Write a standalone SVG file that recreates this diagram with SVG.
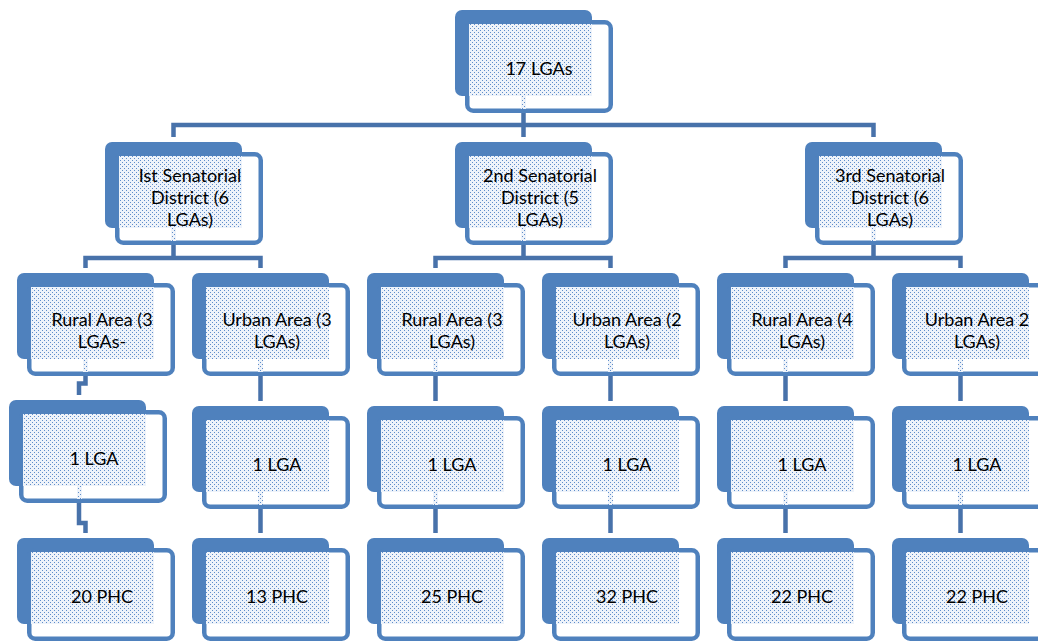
<svg xmlns="http://www.w3.org/2000/svg" width="1038" height="642" viewBox="0 0 1038 642">
<defs>
<pattern id="dots" width="4" height="4" patternUnits="userSpaceOnUse">
<rect width="4" height="4" fill="#EEF3FA"/>
<rect x="0" y="0" width="1" height="1" fill="#5F8DCA"/>
<rect x="2" y="2" width="1" height="1" fill="#5F8DCA"/>
</pattern>
<pattern id="dotsX" href="#dots" x="1"/>
<pattern id="dotsY" href="#dots" y="1"/>
<pattern id="dotsXY" href="#dots" x="1" y="1"/>
</defs>
<style>
.back{fill:#4F81BD}
.front{fill:#fff;stroke:#4F81BD;stroke-width:4.5}
.dot{fill:url(#dots)}
.ox .dot{fill:url(#dotsX)}
.oy .dot{fill:url(#dotsY)}
.oxy .dot{fill:url(#dotsXY)}
.lbl{font-family:Lato,"Liberation Sans",sans-serif;font-size:18px;fill:#000;text-anchor:middle}
.conn{fill:none;stroke:#4872AA;stroke-width:4.5;stroke-linejoin:miter;stroke-linecap:butt}
</style>
<rect width="1038" height="642" fill="#fff"/>
<g id="connectors" class="conn">
<path d="M173.5 137 V125 H873.5 V137 M523.5 96 V137"/>
<path d="M85.5 268 V258 H260.5 V268 M173.5 228 V258"/>
<path d="M435.5 268 V258 H610.5 V268 M523.5 228 V258"/>
<path d="M785.5 268 V258 H960.5 V268 M873.5 228 V258"/>
<path d="M85.5 359 V383.5 H79 V395"/>
<path d="M260.5 359 V401 M435.5 359 V401 M610.5 359 V401 M785.5 359 V401 M960.5 359 V401"/>
<path d="M79 486 V523 H85.5 V533"/>
<path d="M260.5 492 V533 M435.5 492 V533 M610.5 492 V533 M785.5 492 V533 M960.5 492 V533"/>
</g>
<g id="n-top" class="ox" transform="translate(455,10)"><rect class="back" width="137" height="86" rx="7"/><rect class="front" x="12.25" y="12.25" width="143.5" height="88.5" rx="6"/><rect class="dot" x="14" y="14" width="123" height="72"/><rect class="dot" x="66" y="86" width="5" height="13"/><text class="lbl" x="84" y="65">17 LGAs</text></g>
<g id="n-s1" class="ox" transform="translate(105,142)"><rect class="back" width="137" height="86" rx="7"/><rect class="front" x="12.25" y="12.25" width="143.5" height="88.5" rx="6"/><rect class="dot" x="14" y="14" width="123" height="72"/><rect class="dot" x="66" y="86" width="5" height="13"/><text class="lbl" x="85" y="40">Ist Senatorial</text><text class="lbl" x="85" y="62">District (6</text><text class="lbl" x="85" y="84">LGAs)</text></g>
<g id="n-s2" class="ox" transform="translate(455,142)"><rect class="back" width="137" height="86" rx="7"/><rect class="front" x="12.25" y="12.25" width="143.5" height="88.5" rx="6"/><rect class="dot" x="14" y="14" width="123" height="72"/><rect class="dot" x="66" y="86" width="5" height="13"/><text class="lbl" x="85" y="40">2nd Senatorial</text><text class="lbl" x="85" y="62">District (5</text><text class="lbl" x="85" y="84">LGAs)</text></g>
<g id="n-s3" class="ox" transform="translate(805,142)"><rect class="back" width="137" height="86" rx="7"/><rect class="front" x="12.25" y="12.25" width="143.5" height="88.5" rx="6"/><rect class="dot" x="14" y="14" width="123" height="72"/><rect class="dot" x="66" y="86" width="5" height="13"/><text class="lbl" x="85" y="40">3rd Senatorial</text><text class="lbl" x="85" y="62">District (6</text><text class="lbl" x="85" y="84">LGAs)</text></g>
<g id="n-a1" class="oxy" transform="translate(17,273)"><rect class="back" width="137" height="86" rx="7"/><rect class="front" x="12.25" y="12.25" width="143.5" height="88.5" rx="6"/><rect class="dot" x="14" y="14" width="123" height="72"/><rect class="dot" x="66" y="86" width="5" height="13"/><text class="lbl" x="85" y="53">Rural Area (3</text><text class="lbl" x="85" y="75">LGAs-</text></g>
<g id="n-a2" class="oy" transform="translate(192,273)"><rect class="back" width="137" height="86" rx="7"/><rect class="front" x="12.25" y="12.25" width="143.5" height="88.5" rx="6"/><rect class="dot" x="14" y="14" width="123" height="72"/><rect class="dot" x="66" y="86" width="5" height="13"/><text class="lbl" x="85" y="53">Urban Area (3</text><text class="lbl" x="85" y="75">LGAs)</text></g>
<g id="n-a3" class="oxy" transform="translate(367,273)"><rect class="back" width="137" height="86" rx="7"/><rect class="front" x="12.25" y="12.25" width="143.5" height="88.5" rx="6"/><rect class="dot" x="14" y="14" width="123" height="72"/><rect class="dot" x="66" y="86" width="5" height="13"/><text class="lbl" x="85" y="53">Rural Area (3</text><text class="lbl" x="85" y="75">LGAs)</text></g>
<g id="n-a4" class="oy" transform="translate(542,273)"><rect class="back" width="137" height="86" rx="7"/><rect class="front" x="12.25" y="12.25" width="143.5" height="88.5" rx="6"/><rect class="dot" x="14" y="14" width="123" height="72"/><rect class="dot" x="66" y="86" width="5" height="13"/><text class="lbl" x="85" y="53">Urban Area (2</text><text class="lbl" x="85" y="75">LGAs)</text></g>
<g id="n-a5" class="oxy" transform="translate(717,273)"><rect class="back" width="137" height="86" rx="7"/><rect class="front" x="12.25" y="12.25" width="143.5" height="88.5" rx="6"/><rect class="dot" x="14" y="14" width="123" height="72"/><rect class="dot" x="66" y="86" width="5" height="13"/><text class="lbl" x="85" y="53">Rural Area (4</text><text class="lbl" x="85" y="75">LGAs)</text></g>
<g id="n-a6" class="oy" transform="translate(892,273)"><rect class="back" width="137" height="86" rx="7"/><rect class="front" x="12.25" y="12.25" width="143.5" height="88.5" rx="6"/><rect class="dot" x="14" y="14" width="123" height="72"/><rect class="dot" x="66" y="86" width="5" height="13"/><text class="lbl" x="85" y="53">Urban Area 2</text><text class="lbl" x="85" y="75">LGAs)</text></g>
<g id="n-l1" class="ox" transform="translate(9,400)"><rect class="back" width="137" height="86" rx="7"/><rect class="front" x="12.25" y="12.25" width="143.5" height="88.5" rx="6"/><rect class="dot" x="14" y="14" width="123" height="72"/><rect class="dot" x="68" y="86" width="5" height="13"/><text class="lbl" x="85" y="65">1 LGA</text></g>
<g id="n-l2" transform="translate(192,406)"><rect class="back" width="137" height="86" rx="7"/><rect class="front" x="12.25" y="12.25" width="143.5" height="88.5" rx="6"/><rect class="dot" x="14" y="14" width="123" height="72"/><rect class="dot" x="66" y="86" width="5" height="13"/><text class="lbl" x="85" y="65">1 LGA</text></g>
<g id="n-l3" class="ox" transform="translate(367,406)"><rect class="back" width="137" height="86" rx="7"/><rect class="front" x="12.25" y="12.25" width="143.5" height="88.5" rx="6"/><rect class="dot" x="14" y="14" width="123" height="72"/><rect class="dot" x="66" y="86" width="5" height="13"/><text class="lbl" x="85" y="65">1 LGA</text></g>
<g id="n-l4" transform="translate(542,406)"><rect class="back" width="137" height="86" rx="7"/><rect class="front" x="12.25" y="12.25" width="143.5" height="88.5" rx="6"/><rect class="dot" x="14" y="14" width="123" height="72"/><rect class="dot" x="66" y="86" width="5" height="13"/><text class="lbl" x="85" y="65">1 LGA</text></g>
<g id="n-l5" class="ox" transform="translate(717,406)"><rect class="back" width="137" height="86" rx="7"/><rect class="front" x="12.25" y="12.25" width="143.5" height="88.5" rx="6"/><rect class="dot" x="14" y="14" width="123" height="72"/><rect class="dot" x="66" y="86" width="5" height="13"/><text class="lbl" x="85" y="65">1 LGA</text></g>
<g id="n-l6" transform="translate(892,406)"><rect class="back" width="137" height="86" rx="7"/><rect class="front" x="12.25" y="12.25" width="143.5" height="88.5" rx="6"/><rect class="dot" x="14" y="14" width="123" height="72"/><rect class="dot" x="66" y="86" width="5" height="13"/><text class="lbl" x="85" y="65">1 LGA</text></g>
<g id="n-p1" class="ox" transform="translate(17,538)"><rect class="back" width="137" height="86" rx="7"/><rect class="front" x="12.25" y="12.25" width="143.5" height="88.5" rx="6"/><rect class="dot" x="14" y="14" width="123" height="72"/><text class="lbl" x="85" y="65">20 PHC</text></g>
<g id="n-p2" transform="translate(192,538)"><rect class="back" width="137" height="86" rx="7"/><rect class="front" x="12.25" y="12.25" width="143.5" height="88.5" rx="6"/><rect class="dot" x="14" y="14" width="123" height="72"/><text class="lbl" x="85" y="65">13 PHC</text></g>
<g id="n-p3" class="ox" transform="translate(367,538)"><rect class="back" width="137" height="86" rx="7"/><rect class="front" x="12.25" y="12.25" width="143.5" height="88.5" rx="6"/><rect class="dot" x="14" y="14" width="123" height="72"/><text class="lbl" x="85" y="65">25 PHC</text></g>
<g id="n-p4" transform="translate(542,538)"><rect class="back" width="137" height="86" rx="7"/><rect class="front" x="12.25" y="12.25" width="143.5" height="88.5" rx="6"/><rect class="dot" x="14" y="14" width="123" height="72"/><text class="lbl" x="85" y="65">32 PHC</text></g>
<g id="n-p5" class="ox" transform="translate(717,538)"><rect class="back" width="137" height="86" rx="7"/><rect class="front" x="12.25" y="12.25" width="143.5" height="88.5" rx="6"/><rect class="dot" x="14" y="14" width="123" height="72"/><text class="lbl" x="85" y="65">22 PHC</text></g>
<g id="n-p6" transform="translate(892,538)"><rect class="back" width="137" height="86" rx="7"/><rect class="front" x="12.25" y="12.25" width="143.5" height="88.5" rx="6"/><rect class="dot" x="14" y="14" width="123" height="72"/><text class="lbl" x="85" y="65">22 PHC</text></g>
</svg>
